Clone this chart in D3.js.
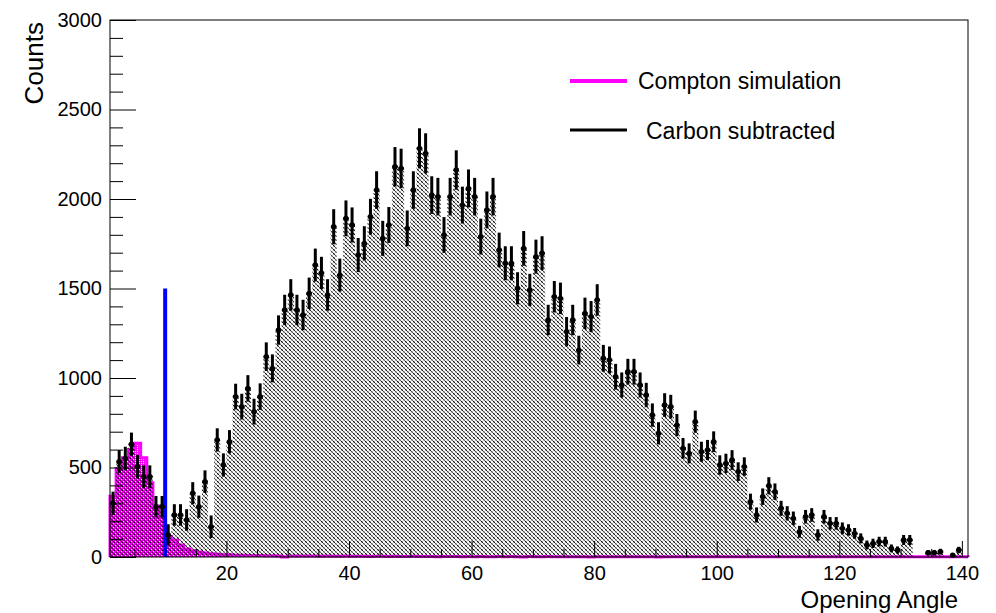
<!DOCTYPE html>
<html lang="en">
<head>
<meta charset="UTF-8">
<script src="https://d3js.org/d3.v7.min.js"></script>
<title>Opening Angle</title>
<style>
  body { margin: 0; background: #fff; }
  svg text { font-family: "Liberation Sans", Arial, Helvetica, sans-serif; }
</style>
</head>
<body>
<svg id="chart" width="996" height="613"></svg>
<script>
// one bin per degree, from 1 to 141
const binLow = 1;
const binWidth = 1;

// carbon subtracted histogram (counts per bin)
const carbonCounts = [
  300, 532, 551, 630, 505, 449, 449, 281, 281, 123,
  235, 235, 207, 356, 281, 421, 169, 654, 514, 644,
  896, 840, 942, 812, 896, 1119, 1054, 1268, 1380, 1464,
  1380, 1352, 1473, 1631, 1587, 1464, 1845, 1575, 1892, 1855,
  1687, 1752, 1901, 2050, 1780, 1855, 2180, 2171, 1836, 2050,
  2283, 2255, 2022, 2013, 1799, 2013, 2162, 1966, 2059, 2013,
  1790, 1939, 2013, 1715, 1641, 1641, 1501, 1724, 1492, 1678,
  1697, 1324, 1454, 1445, 1259, 1324, 1156, 1361, 1343, 1436,
  1110, 1101, 1007, 961, 1035, 1035, 961, 905, 793, 691,
  849, 840, 737, 607, 579, 756, 588, 598, 644, 514,
  523, 542, 477, 505, 309, 235, 337, 398, 365, 272,
  244, 216, 141, 225, 235, 123, 225, 188, 188, 160,
  151, 132, 104, 67, 76, 86, 86, 48, 39, 95,
  95, 0, 0, 24, 24, 30, 0, 10, 39, 0
];

// error bar half lengths
const carbonErrors = [
  65, 65, 65, 65, 65, 63, 63, 60, 60, 60,
  60, 60, 60, 62, 62, 63, 63, 65, 65, 65,
  72, 72, 74, 72, 74, 80, 78, 82, 85, 88,
  85, 85, 88, 92, 90, 88, 98, 92, 100, 98,
  95, 96, 100, 105, 98, 100, 110, 110, 100, 105,
  112, 112, 105, 105, 100, 105, 110, 103, 106, 105,
  100, 103, 105, 97, 95, 95, 90, 97, 90, 95,
  95, 85, 88, 88, 82, 85, 80, 88, 87, 88,
  75, 75, 72, 70, 72, 72, 70, 68, 65, 62,
  66, 66, 62, 58, 56, 62, 56, 56, 58, 54,
  54, 55, 52, 52, 45, 42, 46, 48, 46, 42,
  40, 38, 33, 38, 38, 32, 38, 35, 35, 33,
  32, 30, 28, 25, 26, 27, 27, 22, 20, 28,
  28, 0, 0, 15, 15, 16, 0, 10, 18, 0
];

// Compton simulation histogram
const comptonCounts = [
  340, 495, 555, 600, 635, 555, 415, 285, 225, 115,
  95, 67, 45, 35, 28, 22, 18, 15, 12, 12,
  10, 10, 9, 8, 8, 7, 7, 6, 0, 5,
  5, 6, 5, 5, 4, 5, 4, 4, 5, 4,
  4, 4, 3, 4, 4, 3, 4, 3, 3, 4,
  3, 3, 3, 2, 3, 3, 3, 2, 3, 2,
  3, 2, 2, 3, 2, 3, 2, 0, 3, 2,
  2, 3, 2, 2, 2, 2, 2, 2, 0, 2,
  2, 2, 2, 2, 2, 2, 2, 2, 2, 0,
  2, 2, 2, 2, 2, 2, 2, 2, 1, 2,
  2, 1, 1, 2, 1, 1, 2, 1, 1, 1,
  1, 1, 1, 1, 1, 1, 1, 1, 1, 1,
  1, 1, 1, 1, 1, 1, 1, 1, 1, 1,
  1, 1, 1, 1, 1, 1, 1, 1, 1, 1
];

const cutAngle = 10;
const cutHeight = 1500;
const xTicks = [20, 40, 60, 80, 100, 120, 140];
const yTicks = [0, 500, 1000, 1500, 2000, 2500, 3000];
const legendLabels = ["Compton simulation", "Carbon subtracted"];

const svg = d3.select("svg#chart");
const width = +svg.attr("width");
const height = +svg.attr("height");
const margin = {top: 20, right: 28, bottom: 56, left: 110};

const x = d3.scaleLinear().domain([binLow, binLow + carbonCounts.length * binWidth])
            .range([margin.left, width - margin.right]);
const y = d3.scaleLinear().domain([0, 3000]).range([height - margin.bottom, margin.top]);

// fill patterns (ROOT style hatch / dots)
const defs = svg.append("defs");
const hatch = defs.append("pattern").attr("id", "hatch")
  .attr("patternUnits", "userSpaceOnUse").attr("width", 4).attr("height", 4);
hatch.append("path")
  .attr("d", "M-1,-1 L5,5 M-1,3 L1,5 M3,-1 L5,1")
  .attr("stroke", "#000").attr("stroke-width", 1.2)
  .attr("stroke-dasharray", "2.2,0.9");

const dots = defs.append("pattern").attr("id", "dots")
  .attr("patternUnits", "userSpaceOnUse").attr("width", 2).attr("height", 2);
dots.append("rect").attr("width", 2).attr("height", 2).attr("fill", "#ff00ff");
dots.append("rect").attr("x", 1).attr("y", 1).attr("width", 1).attr("height", 1).attr("fill", "#fff");

function stepPoints(vals) {
  const pts = vals.map((v, i) => ({edge: binLow + i * binWidth, v: v}));
  pts.push({edge: binLow + vals.length * binWidth, v: vals[vals.length - 1]});
  return pts;
}

const areaGen = d3.area().curve(d3.curveStepAfter)
  .x(d => x(d.edge)).y0(y(0)).y1(d => y(d.v));
const lineGen = d3.line().curve(d3.curveStepAfter)
  .x(d => x(d.edge)).y(d => y(d.v));

const plot = svg.append("g").attr("id", "plot");

// Compton simulation
const comptonPts = stepPoints(comptonCounts);
plot.append("path")
  .datum(comptonPts)
  .attr("fill", "url(#dots)")
  .attr("d", areaGen);
plot.append("path")
  .datum([{edge: binLow, v: 0}].concat(comptonPts, [{edge: comptonPts[comptonPts.length - 1].edge, v: 0}]))
  .attr("fill", "none")
  .attr("stroke", "#ff00ff")
  .attr("stroke-width", 3)
  .attr("d", lineGen);

// carbon subtracted, hatched
plot.append("path")
  .datum(stepPoints(carbonCounts))
  .attr("fill", "url(#hatch)")
  .attr("d", areaGen);

// cut line
plot.append("line")
  .attr("x1", x(cutAngle)).attr("x2", x(cutAngle))
  .attr("y1", y(0)).attr("y2", y(cutHeight))
  .attr("stroke", "#0000ff").attr("stroke-width", 4);

// error bars + markers
const pts = carbonCounts.map((v, i) => ({lo: binLow + i * binWidth, v: v, e: carbonErrors[i]}))
  .filter(d => d.v > 0);
const bars = plot.append("g").attr("id", "errors");
bars.selectAll("line.ev").data(pts).join("line").attr("class", "ev")
  .attr("x1", d => x(d.lo + binWidth / 2)).attr("x2", d => x(d.lo + binWidth / 2))
  .attr("y1", d => y(d.v - d.e)).attr("y2", d => y(Math.min(d.v + d.e, 3000)))
  .attr("stroke", "#000").attr("stroke-width", 3);
bars.selectAll("line.eh").data(pts).join("line").attr("class", "eh")
  .attr("x1", d => x(d.lo) + 0.3).attr("x2", d => x(d.lo + binWidth) - 0.3)
  .attr("y1", d => y(d.v)).attr("y2", d => y(d.v))
  .attr("stroke", "#000").attr("stroke-width", 2.2);
bars.selectAll("circle").data(pts).join("circle")
  .attr("cx", d => x(d.lo + binWidth / 2)).attr("cy", d => y(d.v))
  .attr("r", 2.7).attr("fill", "#000");

// axes, ticks pointing inwards
const axes = svg.append("g").attr("id", "axes");
axes.append("g").attr("transform", `translate(${margin.left},0)`)
  .call(d3.axisLeft(y).tickValues(yTicks).tickSize(-26).tickPadding(8).tickFormat(d3.format("d")));
axes.append("g").attr("transform", `translate(${margin.left},0)`)
  .call(d3.axisLeft(y).tickValues(d3.range(0, 3001, 100).filter(v => v % 500)).tickSize(-13).tickFormat(""));
axes.append("g").attr("transform", `translate(0,${height - margin.bottom})`)
  .call(d3.axisBottom(x).tickValues(xTicks).tickSize(-16).tickPadding(9).tickFormat(d3.format("d")));
axes.append("g").attr("transform", `translate(0,${height - margin.bottom})`)
  .call(d3.axisBottom(x).tickValues(d3.range(5, 141, 5).filter(v => v % 20)).tickSize(-8).tickFormat(""));
axes.selectAll(".domain").remove();
axes.selectAll("text").attr("font-size", 20).attr("fill", "#000")
  .attr("font-family", "'Liberation Sans', Arial, sans-serif");

// frame
axes.append("rect")
  .attr("x", margin.left).attr("y", margin.top)
  .attr("width", width - margin.left - margin.right)
  .attr("height", height - margin.top - margin.bottom)
  .attr("fill", "none").attr("stroke", "#000").attr("stroke-width", 1);

// titles
svg.append("text")
  .attr("transform", `translate(43,${margin.top + 2}) rotate(-90)`)
  .attr("text-anchor", "end").attr("font-size", 26)
  .text("Counts");
svg.append("text")
  .attr("x", 958).attr("y", 608)
  .attr("text-anchor", "end").attr("font-size", 24)
  .text("Opening Angle");

// legend
const legend = svg.append("g").attr("id", "legend");
legend.append("line").attr("x1", 570).attr("x2", 627).attr("y1", 81).attr("y2", 81)
  .attr("stroke", "#ff00ff").attr("stroke-width", 4);
legend.append("text").attr("x", 638).attr("y", 89).attr("font-size", 23).text(legendLabels[0]);
legend.append("line").attr("x1", 570).attr("x2", 627).attr("y1", 130).attr("y2", 130)
  .attr("stroke", "#000").attr("stroke-width", 3);
legend.append("text").attr("x", 646).attr("y", 138.5).attr("font-size", 23).text(legendLabels[1]);
</script>
</body>
</html>
